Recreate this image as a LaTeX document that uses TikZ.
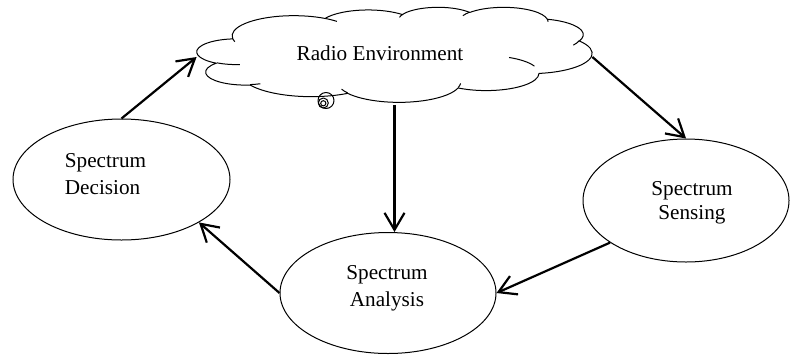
\documentclass[tikz,border=0pt]{standalone}
\usepackage{fontspec}
\setmainfont{Liberation Serif}
\usetikzlibrary{shapes.geometric,arrows.meta}

\begin{document}
\begin{tikzpicture}[x=0.5pt, y=-0.5pt,
        elipse/.style={ellipse, draw=black, line width=0.5pt, inner sep=0pt},
        texto/.style={inner sep=0pt, font=\fontsize{10.6}{13.7}\selectfont},
        nube/.style={draw=black, line width=0.5pt, line join=round},
        flecha/.style={-{Straight Barb[length=8.5pt, width=10pt]}, line width=1.1pt}
    ]
        \useasboundingbox (0,0) rectangle (790,354);

        % Nodos
        \node[elipse, minimum width=108.5pt, minimum height=60.5pt] (decision) at (121.5,179.5) {};
        \node[elipse, minimum width=103pt, minimum height=61.5pt] (sensing) at (686,200.5) {};
        \node[elipse, minimum width=108pt, minimum height=60.5pt] (analysis) at (388,293) {};
        \node[minimum width=197.5pt, minimum height=47.5pt, inner sep=0pt] (env) at (394.5,57) {};

        % Textos
        \node[texto] (envtexto) at (380,52.8) {Radio Environment};
        \node[texto, align=left] (dectexto) at (105.5,174.2) {Spectrum\\Decision};
        \node[texto, align=center, font=\fontsize{10.6}{11.7}\selectfont] (sentexto) at (692,202.8) {Spectrum\\Sensing};
        \node[texto, align=center] (anatexto) at (387,288.1) {Spectrum\\Analysis};

        % Contorno de la nube
        \gdef\contorno{}
        \foreach \wr/\hr/\st/\sw in {67.53/91.90/-190.4875/123.7805, 53.33/72.67/-144.1024/89.9452,
                43.65/59.45/-145.8079/99.7230, 48.57/65.95/-130.9861/117.2417,
                53.33/72.73/-78.7089/109.0269, 67.75/92.20/-46.2673/130.2690,
                57.85/78.67/0.6250/114.0333, 67.52/92.15/22.4516/115.1726,
                77.20/105.43/66.2426/75.7110, 43.60/59.18/-274.9421/146.7356,
                43.45/59.45/-246.8285/152.5189}{
            \pgfmathsetmacro\angA{atan2(-\wr*sin(\st),\hr*cos(\st))}
            \pgfmathsetmacro\angB{atan2(-\wr*sin(\st+\sw),\hr*cos(\st+\sw))}
            \pgfmathsetmacro\angD{-mod((\angA)-(\angB)+720,360)}
            \pgfmathsetmacro\radX{\wr*0.457176}
            \pgfmathsetmacro\radY{\hr*0.109954}
            \xdef\contorno{\contorno arc[start angle=\angA, delta angle=\angD, x radius=\radX pt, y radius=\radY pt]}
        }
        \begin{scope}[shift={(197,7)}, x=0.457176pt, y=-0.109954pt]
            \draw[nube] (39,143.7) \contorno -- cycle;
            % Lineas interiores
            \foreach \px/\py/\wr/\hr/\st/\sw in {46.93/261.77/43.45/59.45/86.7420/26.4295,
                    69.28/348.99/43.60/59.18/73.6105/11.4475, 164.78/390.90/67.52/92.15/137.6242/14.0811,
                    288.27/347.51/67.52/92.15/6.4533/15.9984, 341.29/229.54/57.85/78.67/-70.2924/39.8062,
                    417.98/153.54/53.33/72.73/20.4848/20.4333, 383.24/54.26/48.57/65.95/-13.7443/14.8589,
                    290.78/39.52/48.57/65.95/-149.1815/18.1954, 221.41/47.20/43.65/59.45/-163.4943/17.6864,
                    140.00/51.92/67.53/91.90/-66.7070/12.3194, 41.27/157.89/67.53/91.90/157.6544/11.8582}{
                \pgfmathsetmacro\angA{atan2(-\wr*sin(\st),\hr*cos(\st))}
                \pgfmathsetmacro\angB{atan2(-\wr*sin(\st+\sw),\hr*cos(\st+\sw))}
                \pgfmathsetmacro\angD{-mod((\angA)-(\angB)+720,360)}
                \draw[nube] (\px,\py) arc[start angle=\angA, delta angle=\angD,
                    x radius=\wr*0.457176pt, y radius=\hr*0.109954pt];
            }
        \end{scope}

        % Burbujas
        \draw[nube] (326,100.5) circle[radius=4pt];
        \draw[nube] (323.3,103) circle[radius=2.5pt];
        \draw[nube] (323.3,103.3) circle[radius=1.3pt];

        % Flechas
        \draw[flecha] (decision.north) -- (env.west);
        \draw[flecha] (env.east) -- (sensing.north);
        \draw[flecha] (env.south) -- (env.south |- analysis.north);
        \draw[flecha] (sensing.209) -- (analysis.east);
        \draw[flecha] (analysis.west) -- (decision.-29);
    \end{tikzpicture}
\end{document}
